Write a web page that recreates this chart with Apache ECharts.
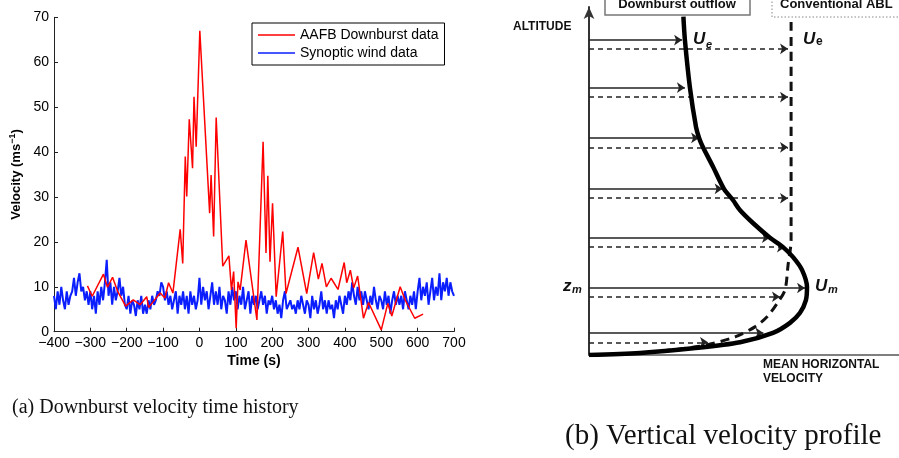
<!DOCTYPE html>
<html><head><meta charset="utf-8">
<script src="https://cdn.jsdelivr.net/npm/echarts@6/dist/echarts.min.js"></script>
<style>html,body{margin:0;padding:0;background:#fff}#c{width:899px;height:458px}</style>
</head><body><div id="c"></div>
<script>
// ---- Panel (a): downburst velocity time history ----
const redTime = [-308,-295,-264,-253,-239,-225,-203,-182,-163,-145,-140,-127,-108,-95,-85,-73,-53,-46,-39,-35,-28,-19,-15,-9,1,28,32,39,46,64,81,88,94,101,106,112,128,158,175,183,188,194,201,211,229,238,271,295,314,327,337,349,362,381,398,405,415,424,435,451,465,500,518,529,552,566,592,615];
const redVel  = [10.2,7.9,12.8,9.9,12.1,9,5.7,7.1,6.0,7.8,5.4,6.7,8.6,7.5,10.9,8.6,22.8,15.2,39,30.1,47.3,36.4,52.3,41.2,67,26.4,34.9,21.2,47.7,14.6,16.9,9.3,13.4,0.8,11.1,9.3,20.4,2.6,42.3,17.5,34.7,15.6,28.6,7.8,22.3,8.5,18.8,8.5,17.6,11.7,15.2,10,11.9,9.4,15.4,10.9,13.7,9.7,12.4,3.0,6.5,0.4,6.3,3.5,10,7,3,3.9];
const synStart = -400, synStep = 5;
const synVel = [
 8,5,9,6,10,7,5,9,6,8,
 9,12,8,11,13,9,10,7,9,6,
 9,5,8,4,9,6,10,7,11,16,
 8,11,6,10,7,9,12,8,10,6,
 5,8,4,7,6,3.5,7,5,8,4,
 6,4,7,5,8,6,7,9,8,11,
 10,7,9,6,8,5,7,9,4,8,
 6,9,5,8,4,9,6,8,5,7,
 12,6,10,7,9,5,8,11,6,9,
 6,10,5,8,7,4,9,6,10,7,
 9,5,8,6,10,5,7,9,4,8,
 6,8,5,7,9,6,8,4,7,6,
 8,5,7,4,6,3,7,9,5,6,
 7,5,6,4,7,5,8,6,4,7,
 6,3,8,5,7,4,6,9,5,7,
 4,7,5,6,3,7,5,8,6,4,
 8,6,9,7,11,8,6,10,7,9,
 6,9,7,5,8,6,10,7,5,8,
 7,5,9,6,8,4,7,9,6,8,
 6,8,5,9,7,5,8,6,9,5,
 9,12,7,10,8,11,6,9,12,7,
 10,8,13,7,11,9,12,8,11,9,
 8];
const xTicks = {min:-400, max:700, step:100};
const yTicks = {min:0, max:70, step:10};

// ---- Panel (b): vertical velocity profile (schematic, velocity normalised by U_m, altitude by z_m) ----
const outflowVel = [0.433,0.440,0.463,0.491,0.505,0.523,0.569,0.619,0.661,0.693,0.752,0.830,0.890,0.936,0.977,1.0,0.995,0.968,0.922,0.844,0.693,0.477,0.234,0];
const outflowAlt = [5.05,4.70,3.99,3.40,3.24,3.10,2.81,2.48,2.31,2.16,1.97,1.75,1.61,1.46,1.27,1.01,0.82,0.63,0.48,0.33,0.19,0.10,0.03,0];
const ablVel = [0.927,0.927,0.913,0.899,0.867,0.817,0.761,0.670,0.509,0.280];
const ablAlt = [4.97,1.72,1.34,0.97,0.79,0.57,0.42,0.27,0.13,0.045];
const solidArrowAlt = [4.70,3.99,3.24,2.48,1.75,1.00,0.33];
const solidArrowEnd = [0.427,0.440,0.505,0.613,0.830,0.991,0.80];
const dashArrowAlt = [4.57,3.85,3.10,2.34,1.61,0.87,0.19];
const dashArrowEnd = [0.913,0.913,0.913,0.913,0.899,0.876,0.546];

const chart = echarts.init(document.getElementById('c'), null, {renderer:'canvas'});
const zip = (a,b) => a.map((v,i)=>[v,b[i]]);
const synData = synVel.map((v,i)=>[synStart + i*synStep, v]);
const F = 'Liberation Sans, Arial, Helvetica, sans-serif';
const minus = v => v < 0 ? '\u2212' + (-v) : String(v);
const lineIcon = 'path://M0,0 L40,0 L40,1.6 L0,1.6 Z';

const option = {
  backgroundColor:'#fff',
  animation:false,
  grid:[
    {left:54, top:17.3, width:400, height:314.4, containLabel:false},
    {left:589, top:7, width:310, height:348, containLabel:false}
  ],
  xAxis:[
    {type:'value', gridIndex:0, min:xTicks.min, max:xTicks.max, interval:xTicks.step,
     name:'Time (s)', nameLocation:'middle', nameGap:22,
     nameTextStyle:{fontFamily:F, fontSize:14, fontWeight:'bold', color:'#000'},
     axisLine:{onZero:false, lineStyle:{color:'#222', width:1}},
     axisTick:{inside:true, length:4, lineStyle:{color:'#222'}},
     axisLabel:{fontFamily:F, fontSize:14, color:'#000', margin:4, formatter:minus},
     splitLine:{show:false}},
    {type:'value', gridIndex:1, min:0, max:1.422,
     axisLine:{show:true, onZero:false, lineStyle:{color:'#555', width:1.5}},
     axisTick:{show:false}, axisLabel:{show:false}, splitLine:{show:false}}
  ],
  yAxis:[
    {type:'value', gridIndex:0, min:yTicks.min, max:yTicks.max, interval:yTicks.step,
     name:'Velocity (ms{sup|\u22121})', nameLocation:'middle', nameGap:30, nameRotate:90,
     nameTextStyle:{fontFamily:F, fontSize:13, fontWeight:'bold', color:'#000',
       rich:{sup:{fontFamily:F, fontSize:9, fontWeight:'bold', color:'#000', padding:[0,0,7,0]}}},
     axisLine:{show:true, onZero:false, lineStyle:{color:'#222', width:1}},
     axisTick:{show:true, inside:true, length:4, lineStyle:{color:'#222'}},
     axisLabel:{fontFamily:F, fontSize:14, color:'#000', margin:5},
     splitLine:{show:false}},
    {type:'value', gridIndex:1, min:0, max:5.194,
     axisLine:{show:true, onZero:false, symbol:['none','arrow'], symbolSize:[8,12], lineStyle:{color:'#333', width:2}},
     axisTick:{show:false}, axisLabel:{show:false}, splitLine:{show:false}}
  ],
  legend:{
    data:[{name:'AAFB Downburst data', icon:lineIcon},{name:'Synoptic wind data', icon:lineIcon}],
    orient:'vertical', left:252, top:23, padding:[4,6,4,6], itemGap:2,
    itemWidth:37, itemHeight:1.6, backgroundColor:'#fff', borderColor:'#000', borderWidth:1, borderRadius:0,
    textStyle:{fontFamily:F, fontSize:14, color:'#000', lineHeight:16}
  },
  series:[
    {name:'Synoptic wind data', type:'line', xAxisIndex:0, yAxisIndex:0, data:synData,
     symbol:'none', lineStyle:{color:'#0a1eff', width:2}, itemStyle:{color:'#0a1eff'}, z:2},
    {name:'AAFB Downburst data', type:'line', xAxisIndex:0, yAxisIndex:0, data:zip(redTime, redVel),
     symbol:'none', lineStyle:{color:'#ff0000', width:1.5}, itemStyle:{color:'#ff0000'}, z:3},
    {type:'line', xAxisIndex:1, yAxisIndex:1, data:zip(outflowVel, outflowAlt), symbol:'none', smooth:0.3,
     lineStyle:{color:'#000', width:4.5}, z:5, silent:true},
    {type:'line', xAxisIndex:1, yAxisIndex:1, data:zip(ablVel, ablAlt), symbol:'none', smooth:0.3,
     lineStyle:{color:'#111', width:3, type:[9,6]}, z:4, silent:true},
    {type:'lines', coordinateSystem:'cartesian2d', xAxisIndex:1, yAxisIndex:1, symbol:['none','arrow'], symbolSize:8,
     lineStyle:{color:'#222', width:1.5, type:'solid', opacity:1}, z:3, silent:true,
     data: solidArrowAlt.map((a,i)=>({coords:[[0,a],[solidArrowEnd[i],a]]}))},
    {type:'lines', coordinateSystem:'cartesian2d', xAxisIndex:1, yAxisIndex:1, symbol:['none','arrow'], symbolSize:8,
     lineStyle:{color:'#222', width:1.5, type:[5,4], opacity:1}, z:3, silent:true,
     data: dashArrowAlt.map((a,i)=>({coords:[[0,a],[dashArrowEnd[i],a]]}))}
  ],
  graphic:[
    // captions
    {type:'text', left:12, top:398, style:{text:'(a) Downburst velocity time history', font:'20px "Liberation Serif", "DejaVu Serif", serif', fill:'#111'}},
    {type:'text', left:565, top:422, style:{text:'(b) Vertical velocity profile', font:'29px "Liberation Serif", "DejaVu Serif", serif', fill:'#111'}},
    // panel (b) boxes
    {type:'rect', shape:{x:605, y:-6, width:145, height:21}, style:{fill:'#fff', stroke:'#777', lineWidth:1.5}},
    {type:'text', x:677, y:4, style:{text:'Downburst outflow', font:'bold 13px '+F, fill:'#111', align:'center', verticalAlign:'middle'}},
    {type:'rect', shape:{x:772, y:-6, width:160, height:23}, style:{fill:'#fff', stroke:'#888', lineWidth:1, lineDash:[1.5,2]}},
    {type:'text', x:780, y:4, style:{text:'Conventional ABL', font:'bold 13px '+F, fill:'#111', align:'left', verticalAlign:'middle'}},
    // panel (b) labels
    {type:'text', x:513, y:27, style:{text:'ALTITUDE', font:'bold 12px '+F, fill:'#111', verticalAlign:'middle'}},
    {type:'text', x:763, y:372, style:{text:'MEAN HORIZONTAL\nVELOCITY', font:'bold 12px '+F, fill:'#111', verticalAlign:'middle', lineHeight:14}},
    {type:'text', x:693, y:39, style:{text:'U', font:'italic bold 17px '+F, fill:'#111', verticalAlign:'middle'}},
    {type:'text', x:706, y:45, style:{text:'e', font:'italic bold 11px '+F, fill:'#111', verticalAlign:'middle'}},
    {type:'text', x:803, y:39, style:{text:'U', font:'italic bold 17px '+F, fill:'#111', verticalAlign:'middle'}},
    {type:'text', x:816, y:42, style:{text:'e', font:'bold 12px '+F, fill:'#111', verticalAlign:'middle'}},
    {type:'text', x:815, y:286, style:{text:'U', font:'italic bold 17px '+F, fill:'#111', verticalAlign:'middle'}},
    {type:'text', x:828, y:290, style:{text:'m', font:'italic bold 11px '+F, fill:'#111', verticalAlign:'middle'}},
    {type:'text', x:563, y:286, style:{text:'z', font:'italic bold 17px '+F, fill:'#111', verticalAlign:'middle'}},
    {type:'text', x:572, y:290, style:{text:'m', font:'italic bold 11px '+F, fill:'#111', verticalAlign:'middle'}}
  ]
};
chart.setOption(option);
</script></body></html>
